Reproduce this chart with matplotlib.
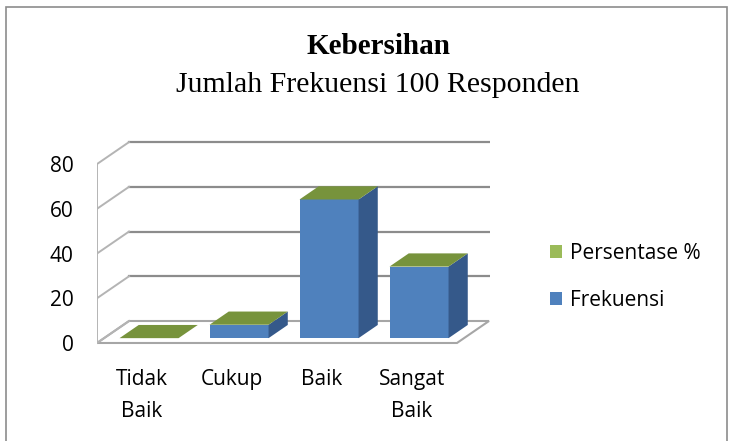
import matplotlib
matplotlib.use("Agg")
import matplotlib.pyplot as plt
from matplotlib.patches import Polygon, Rectangle, Patch

# data
kategori = ["Tidak\nBaik", "Cukup", "Baik", "Sangat\nBaik"]
frekuensi = [0, 6, 62, 32]
persentase = [0, 6, 62, 32]
yticks = [0, 20, 40, 60, 80]
seri = ["Persentase %", "Frekuensi"]

BLUE = "#4F81BD"
BLUE_SIDE = "#35598A"
GREEN_TOP = "#77933C"
GREEN = "#9BBB59"
GRID = "#8C8C8C"
SANS = "Open Sans"

# oblique depth of the plot box (category units, value units)
DX, DY = 0.356, 9.83
F1, F2 = 0.22, 0.82  # bar front / back depth fraction
HW = 0.328  # half bar width


def depth(x, y, f):
    return x + f * DX, y + f * DY


fig = plt.figure(figsize=(7.34, 4.41), dpi=100)
fig.patches.append(Rectangle((6 / 734, -0.05), 721 / 734, 1.05 - 7 / 441,
                             transform=fig.transFigure, fill=False,
                             edgecolor="#8C8C8C", lw=1.2))

ax = fig.add_axes([97 / 734, 96 / 441, 393 / 734, 225 / 441])
ax.set_xlim(-0.5, 3.867)
ax.set_ylim(-0.9, 99.7)
for s in ax.spines.values():
    s.set_visible(False)
ax.patch.set_alpha(0)

x0, x1 = -0.5, len(kategori) - 0.5

# floor
floor = [(x0, 0), (x1, 0), depth(x1, 0, 1), depth(x0, 0, 1)]
ax.add_patch(Polygon(floor, closed=True, facecolor="white",
                     edgecolor="#A6A6A6", lw=1.5, zorder=1))

# back wall gridlines and side wall lines
for v in yticks:
    bx0, by = depth(x0, v, 1)
    bx1, _ = depth(x1, v, 1)
    if v > 0:
        ax.plot([bx0, bx1], [by, by], color=GRID, lw=1.6, zorder=1)
    ax.plot([x0, bx0], [v, by], color="#B4B4B4", lw=1.4, zorder=1)
ax.plot([x0, x0], [0, yticks[-1]], color="#B4B4B4", lw=1.4, zorder=1)

# bars
for i, (v, p) in enumerate(zip(frekuensi, persentase)):
    xl1, y1 = depth(i - HW, 0, F1)
    xr1, _ = depth(i + HW, 0, F1)
    xl2, y2 = depth(i - HW, 0, F2)
    xr2, _ = depth(i + HW, 0, F2)
    if v > 0:
        ax.add_patch(Polygon([(xl1, y1), (xr1, y1), (xr1, y1 + v), (xl1, y1 + v)],
                             closed=True, facecolor=BLUE, edgecolor="none", zorder=3))
        ax.add_patch(Polygon([(xr1, y1), (xr2, y2), (xr2, y2 + v), (xr1, y1 + v)],
                             closed=True, facecolor=BLUE_SIDE, edgecolor="none", zorder=3))
    # persentase cap sits on top of the frequency column
    top = v
    ax.add_patch(Polygon([(xl1, y1 + top), (xr1, y1 + top), (xr2, y2 + top), (xl2, y2 + top)],
                         closed=True, facecolor=GREEN_TOP, edgecolor="none", zorder=4))

ax.set_yticks(yticks)
ax.set_yticklabels([str(t) for t in yticks], fontfamily=SANS, fontsize=15)
ax.set_xticks(range(len(kategori)))
ax.set_xticklabels(kategori, fontfamily=SANS, fontsize=15, linespacing=1.7,
                   va="top")
ax.tick_params(axis="y", length=0, pad=17)
ax.tick_params(axis="x", length=0, pad=17)

fig.text(378 / 734, 1 - 47 / 441, "Kebersihan", ha="center", va="center",
         fontfamily="Liberation Serif", fontweight="bold", fontsize=21)
fig.text(378 / 734, 1 - 85 / 441, "Jumlah Frekuensi 100 Responden", ha="center",
         va="center", fontfamily="Liberation Serif", fontsize=21.5)

handles = [Patch(facecolor=GREEN), Patch(facecolor=BLUE)]
fig.legend(handles, seri, loc="center left", bbox_to_anchor=(531 / 734, 1 - 277 / 441),
           frameon=False, prop={"family": SANS, "size": 15},
           handlelength=0.6, handleheight=0.6, handletextpad=0.35, labelspacing=1.25)

fig.savefig("out.png", dpi=100)
